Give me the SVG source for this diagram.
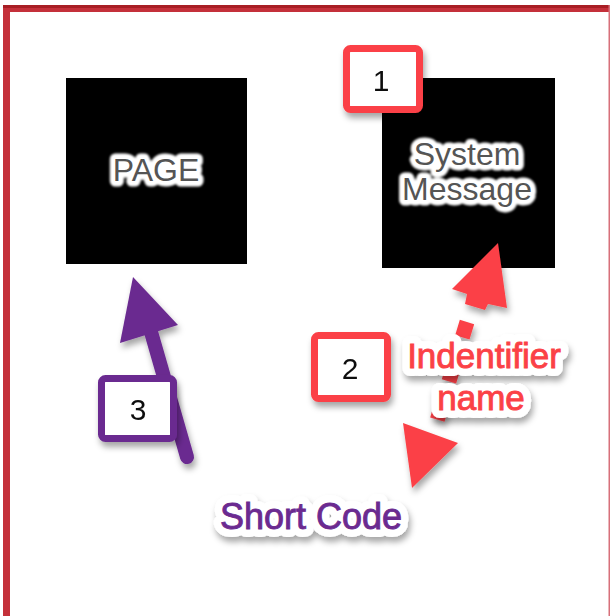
<svg xmlns="http://www.w3.org/2000/svg" width="612" height="616" viewBox="0 0 612 616">
<defs>
<filter id="sh" x="-30%" y="-30%" width="160%" height="160%">
<feDropShadow dx="2" dy="5" stdDeviation="3" flood-color="#000" flood-opacity="0.35"/>
</filter>
<filter id="glow" x="-20%" y="-40%" width="140%" height="180%">
<feGaussianBlur stdDeviation="1"/>
</filter>
<style>
.lbl{font-family:"Liberation Sans",Arial,sans-serif;text-anchor:middle;}
.halo{fill:#fff;stroke:#fff;stroke-width:16;stroke-linejoin:round;}
.node{font-family:"Liberation Sans",Arial,sans-serif;font-size:32px;text-anchor:middle;}
.nhalo{fill:#fff;stroke:#fff;stroke-width:11;stroke-linejoin:round;}
.nfill{fill:#555;}
.num{font-family:"Liberation Sans",Arial,sans-serif;font-size:30px;text-anchor:middle;fill:#111;}
.badge{fill:#fff;stroke-width:7;}
.red{fill:#fb4146;stroke:#fb4146;stroke-width:0.9;}
.pur{fill:#6b2a90;stroke:#6b2a90;stroke-width:0.9;}
</style>
</defs>
<rect width="612" height="616" fill="#fff"/>
<!-- frame -->
<rect x="3" y="5" width="7" height="611" fill="#c4303a"/>
<rect x="3" y="5" width="607" height="7" fill="#c4303a"/>
<rect x="3" y="5" width="607" height="3" fill="#a81e24"/>
<rect x="608.5" y="5" width="1.5" height="611" fill="#d7707a"/>

<g id="page">
<rect x="66" y="78" width="181" height="186" fill="#000"/>
<text class="node nhalo" x="156" y="181" filter="url(#glow)">PAGE</text>
<text class="node nfill" x="156" y="181">PAGE</text>
</g>
<g id="system-message">
<rect x="382" y="78" width="173" height="190" fill="#000"/>
<g filter="url(#glow)">
<text class="node nhalo" x="467" y="165">System</text>
<text class="node nhalo" x="467" y="200">Message</text>
</g>
<text class="node nfill" x="467" y="165">System</text>
<text class="node nfill" x="467" y="200">Message</text>
</g>

<g id="connectors">
<g id="red-arrow" fill="#fb4146" filter="url(#sh)">
<line x1="467" y1="322" x2="436" y2="424" stroke="#fb4146" stroke-width="15" stroke-dasharray="16 36 10 26 14 40"/>
<polygon points="498,243 452,289 467,294 465,304 485,310 488,304 507,308"/>
<polygon points="403,423 458,443 412,488"/>
</g>
<g id="purple-arrow" fill="#6b2a90" filter="url(#sh)">
<line x1="187" y1="457" x2="149" y2="325" stroke="#6b2a90" stroke-width="14" stroke-linecap="round"/>
<polygon points="133,277 120,343 178,325"/>
</g>
</g>

<g id="label-identifier">
<g filter="url(#sh)">
<text class="lbl halo" x="484" y="368" font-size="35">Indentifier</text>
<text class="lbl halo" x="481" y="410" font-size="35">name</text>
</g>
<text class="lbl red" x="484" y="368" font-size="35">Indentifier</text>
<text class="lbl red" x="481" y="410" font-size="35">name</text>
</g>
<g id="label-shortcode">
<text class="lbl halo" x="311" y="529" font-size="36" filter="url(#sh)">Short Code</text>
<text class="lbl pur" x="311" y="529" font-size="36">Short Code</text>
</g>

<g id="badge-1" filter="url(#sh)">
<rect class="badge" x="346.5" y="48.5" width="73" height="61" rx="4" stroke="#fb4146"/>
<text class="num" x="381" y="91">1</text>
</g>
<g id="badge-2" filter="url(#sh)">
<rect class="badge" x="314.5" y="335.5" width="73" height="63" rx="4" stroke="#fb4146"/>
<text class="num" x="350" y="379">2</text>
</g>
<g id="badge-3" filter="url(#sh)">
<rect class="badge" x="101.5" y="378.5" width="72" height="60" rx="4" stroke="#6b2a90"/>
<text class="num" x="138" y="420">3</text>
</g>
</svg>
